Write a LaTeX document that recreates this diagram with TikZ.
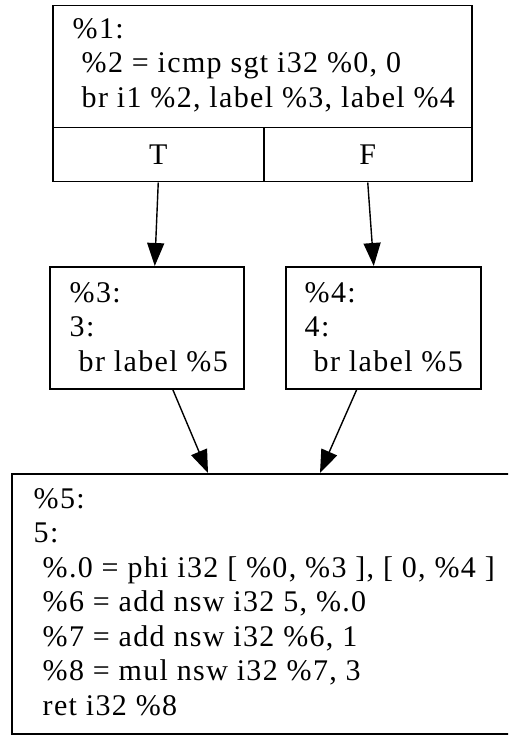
\documentclass[tikz,border=0pt]{standalone}
\usepackage{fontspec}
\setmainfont{Liberation Serif}[LetterSpace=4.5]
\usetikzlibrary{arrows.meta}
\tikzset{
    block/.style={
           rectangle,
           draw=black, line width=1.5pt,
           inner sep=0pt,
           anchor=north west,
           font=\fontsize{30}{34.5}\selectfont,
           },
    code/.style={
           align=left,
           inner sep=0pt,
           anchor=north west,
           font=\fontsize{30}{34.5}\selectfont,
           },
}

\begin{document}
\begin{tikzpicture}[x=1pt,y=-1pt,line width=1.4pt,->,>={Triangle[length=23pt,width=17pt]}]

 \clip (0,0) rectangle (508,735);

 % entry block: code on top, T/F branch cells below
 \node[block, minimum width=419pt, minimum height=122pt] (bb1) at (52,5) {};
 \node[block, minimum width=211pt, minimum height=54pt] (bb1T) at (52,127) {T};
 \node[block, minimum width=208pt, minimum height=54pt] (bb1F) at (263,127) {F};
 \node[code] (bb1code) at (72,17.7)
 {\%1:\\
  \hspace{9pt}\%2 = icmp sgt i32 \%0, 0\\
  \hspace{9pt}br i1 \%2, label \%3, label \%4};

 % the two branch blocks
 \node[block, minimum width=194pt, minimum height=122pt] (bb3) at (49,266) {};
 \node[code] (bb3code) at (69,281.7)
 {\%3:\\
  3:\\
  \hspace{9pt}br label \%5};

 \node[block, minimum width=195pt, minimum height=122pt] (bb4) at (285,266) {};
 \node[code] (bb4code) at (304,281.7)
 {\%4:\\
  4:\\
  \hspace{9pt}br label \%5};

 % join block (runs past the right edge)
 \node[block, minimum width=505pt, minimum height=260pt] (bb5) at (11,473) {};
 \node[code] (bb5code) at (33,487.7)
 {\%5:\\
  5:\\
  \hspace{9pt}\%.0 = phi i32 [ \%0, \%3 ], [ 0, \%4 ]\\
  \hspace{9pt}\%6 = add nsw i32 5, \%.0\\
  \hspace{9pt}\%7 = add nsw i32 \%6, 1\\
  \hspace{9pt}\%8 = mul nsw i32 \%7, 3\\
  \hspace{9pt}ret i32 \%8};

 % edges
 \draw (bb1T.south) -- ([xshift=8pt]bb3.north);
 \draw (bb1F.south) -- ([xshift=-9.5pt]bb4.north);
 \draw ([xshift=26pt]bb3.south) -- ([xshift=197pt]bb5.north west);
 \draw ([xshift=-26.5pt]bb4.south) -- ([xshift=309pt]bb5.north west);

\end{tikzpicture}
\end{document}
